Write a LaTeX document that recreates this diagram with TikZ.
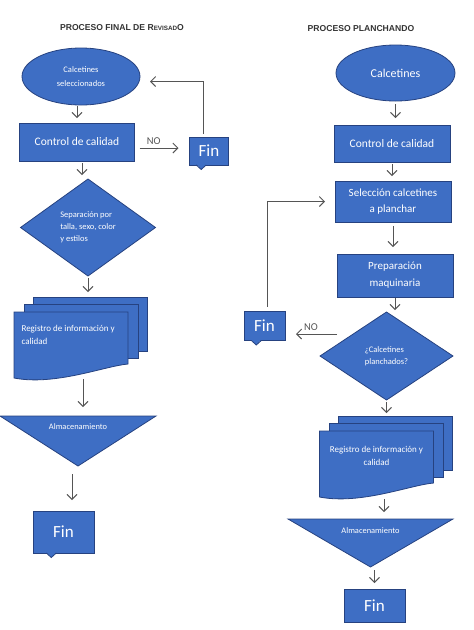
\documentclass[tikz,border=0pt]{standalone}
\usepackage{fontspec}
\setmainfont{Carlito}
\newfontfamily\headfont{Liberation Sans}
\usetikzlibrary{shapes.geometric,positioning,calc,arrows.meta,backgrounds}
\definecolor{boxblue}{RGB}{62,110,196}
\definecolor{boxedge}{RGB}{38,66,128}
\definecolor{pen}{RGB}{85,85,85}

\begin{document}
\begin{tikzpicture}
            [
            x=1pt, y=1pt,
            blueshape/.style={fill=boxblue, draw=boxedge, line width=0.8pt,
                text=white, outer sep=0pt, inner sep=2pt},
            start/.style={blueshape, ellipse, minimum width=118pt,
                minimum height=57pt, align=center},
            proc/.style={blueshape, rectangle, minimum width=116pt,
                minimum height=38pt, align=center,
                font=\fontsize{11.5}{16}\selectfont},
            decision/.style={blueshape, diamond, aspect=1.4, minimum width=135pt,
                minimum height=97pt, font=\fontsize{8.5}{12}\selectfont},
            fin/.style={blueshape, rectangle, font=\fontsize{17}{20}\selectfont},
            docu/.style={rectangle, minimum width=114pt, minimum height=66pt,
                outer sep=0pt},
            store/.style={rectangle, minimum width=156pt, minimum height=50pt,
                outer sep=0pt},
            labtext/.style={text=white, font=\fontsize{9}{12.5}\selectfont},
            heading/.style={font=\headfont\bfseries\fontsize{8.6}{10}\selectfont,
                text=black!80},
            arrowline/.style={-{Straight Barb[length=5pt,width=10pt]}, draw=pen,
                line width=0.9pt},
            answer/.style={text=pen, font=\fontsize{10.5}{11}\selectfont}
            ]

            \useasboundingbox (0,0) rectangle (474,-630);

            % Proceso final de revisado
            \node (titleL) [heading] at (122,-28)
                {PROCESO FINAL DE R{\fontsize{6.3}{10}\selectfont EVISAD}O};
            \node (selecL) [start, font=\fontsize{8.5}{14}\selectfont] at (81,-76.5)
                {Calcetines\\seleccionados};
            \node (ctrlL) [below=18pt of selecL, xshift=-4pt, proc,
                minimum width=115pt] {Control de calidad};
            \node (finA) [right=55pt of ctrlL, yshift=-9pt, fin,
                minimum width=39pt, minimum height=28pt] {Fin};
            \node (sepL) [below=18pt of ctrlL, xshift=11pt, decision, align=left]
                {Separación por\\talla, sexo, color\\y estilos};
            \node (docL) [below=36pt of sepL, xshift=-17pt, docu,
                label={[labtext, anchor=north west, align=left, xshift=4pt,
                yshift=-10pt]north west:Registro de información y\\calidad}] {};
            \node (almL) [below=38pt of docL, xshift=7pt, store,
                label={[labtext, anchor=north, yshift=-4pt,
                font=\fontsize{8.4}{10}\selectfont]north:Almacenamiento}] {};
            \node (finL) [below=45pt of almL, xshift=-14.5pt, fin,
                minimum width=61pt, minimum height=42pt] {Fin};

            % Proceso planchando
            \node (titleR) [heading] at (361,-29) {PROCESO PLANCHANDO};
            \node (calcR) [start, minimum width=119pt, minimum height=56pt,
                font=\fontsize{12}{14}\selectfont] at (395.5,-73) {Calcetines};
            \node (ctrlR) [below=24pt of calcR, xshift=-3.5pt, proc,
                minimum height=37pt] {Control de calidad};
            \node (selR) [below=19pt of ctrlR, xshift=1pt, proc, minimum height=41pt,
                font=\fontsize{11}{16}\selectfont] {Selección calcetines\\a planchar};
            \node (prepR) [below=32pt of selR, xshift=2pt, proc, minimum height=43pt,
                font=\fontsize{11}{17}\selectfont] {Preparación\\maquinaria};
            \node (pregR) [below=15pt of prepR, xshift=-8.5pt, decision,
                minimum width=133pt, minimum height=88pt, align=left]
                {¿Calcetines\\planchados?};
            \node (finM) [left=35pt of pregR, yshift=30pt, fin,
                minimum width=41pt, minimum height=29pt] {Fin};
            \node (docR) [below=31pt of pregR, xshift=-10pt, docu,
                label={[labtext, anchor=north, align=center,
                yshift=-12pt]north:Registro de información y\\calidad}] {};
            \node (almR) [below=22pt of docR, xshift=-6pt, store,
                minimum width=165pt, minimum height=48pt,
                label={[labtext, anchor=north, yshift=-5pt,
                font=\fontsize{8.4}{10}\selectfont]north:Almacenamiento}] {};
            \node (finR) [below=22pt of almR, xshift=4pt, fin,
                minimum width=61pt, minimum height=33pt] {Fin};

            \begin{scope}[on background layer]
                \foreach \d in {docL, docR}{
                    \foreach \s/\t in {19/15, 10/8}{
                        \filldraw [fill=boxblue, draw=boxedge, line width=0.8pt]
                            ($(\d.north west)+(\s,\t)$) rectangle
                            ($(\d.south east)+(\s,\t+12)$);
                    }
                    \filldraw [fill=boxblue, draw=boxedge, line width=0.8pt]
                        (\d.north west) -- (\d.north east)
                        -- ($(\d.south east)+(0,14)$)
                        .. controls ($(\d.south east)+(-23,12)$)
                        and ($(\d.south west)+(41,-8)$) .. (\d.south west) -- cycle;
                }
                \foreach \a in {almL, almR}
                    \filldraw [fill=boxblue, draw=boxedge, line width=0.8pt]
                        (\a.north west) -- (\a.north east) -- (\a.south) -- cycle;
            \end{scope}

            % notches under the Fin boxes
            \foreach \f in {finA, finL, finM}{
                \coordinate (n\f) at ($(\f.south west)!0.3!(\f.south east)$);
                \fill [boxblue] ($(n\f)+(-5,0.6)$) -- ($(n\f)+(0,-4.5)$)
                    -- ($(n\f)+(5,0.6)$) -- cycle;
                \draw [boxedge, line width=0.8pt] ($(n\f)+(-5,0)$)
                    -- ($(n\f)+(0,-4.5)$) -- ($(n\f)+(5,0)$);
            }

            \draw [arrowline, shorten <=1pt, shorten >=5pt]
                (selecL.south -| ctrlL.north) -- (ctrlL.north);
            \draw [arrowline, shorten <=5pt, shorten >=11pt]
                ([yshift=-6pt]ctrlL.east) -- ([yshift=-6pt]ctrlL.east -| finA.west)
                node (noL) [answer, above, pos=0.35] {NO};
            \draw [arrowline, shorten <=3pt, shorten >=10pt]
                ([xshift=-6pt]finA.north) |- ([yshift=-5pt]selecL.east);
            \draw [arrowline, shorten <=2pt, shorten >=4pt]
                ([xshift=5pt]ctrlL.south) -- ([xshift=5pt]ctrlL.south |- sepL.north);
            \draw [arrowline, shorten <=2pt, shorten >=20pt]
                (sepL.south) -- (sepL.south |- docL.north);
            \draw [arrowline, shorten <=1pt, shorten >=9pt]
                ([xshift=12pt]docL.south) -- ([xshift=12pt]docL.south |- almL.north);
            \draw [arrowline, shorten <=8pt, shorten >=11pt]
                ([xshift=-6pt]almL.south) -- ([xshift=-6pt]almL.south |- finL.north);

            \draw [arrowline, shorten <=3pt, shorten >=7pt]
                (calcR.south) -- (calcR.south |- ctrlR.north);
            \draw [arrowline, shorten <=2pt, shorten >=5pt]
                (ctrlR.south) -- (ctrlR.south |- selR.north);
            \draw [arrowline, shorten <=4pt, shorten >=7pt]
                (selR.south) -- (selR.south |- prepR.north);
            \draw [arrowline, shorten <=1pt, shorten >=2pt]
                (prepR.south) -- (prepR.south |- pregR.north);
            \draw [arrowline, shorten >=11pt]
                ($(pregR.west)+(17,22)$) -- ([yshift=-8pt]finM.east)
                node (noR) [answer, above, pos=0.5] {NO};
            \draw [arrowline, shorten <=5pt, shorten >=10pt]
                ([xshift=2.5pt]finM.north) |- (selR.west);
            \draw [arrowline, shorten <=2pt, shorten >=18pt]
                (pregR.south) -- (pregR.south |- docR.north);
            \draw [arrowline, shorten <=2pt, shorten >=7pt]
                ([xshift=7.5pt]docR.south) -- ([xshift=7.5pt]docR.south |- almR.north);
            \draw [arrowline, shorten <=3pt, shorten >=6pt]
                ([xshift=4pt]almR.south) -- ([xshift=4pt]almR.south |- finR.north);

        \end{tikzpicture}
\end{document}
